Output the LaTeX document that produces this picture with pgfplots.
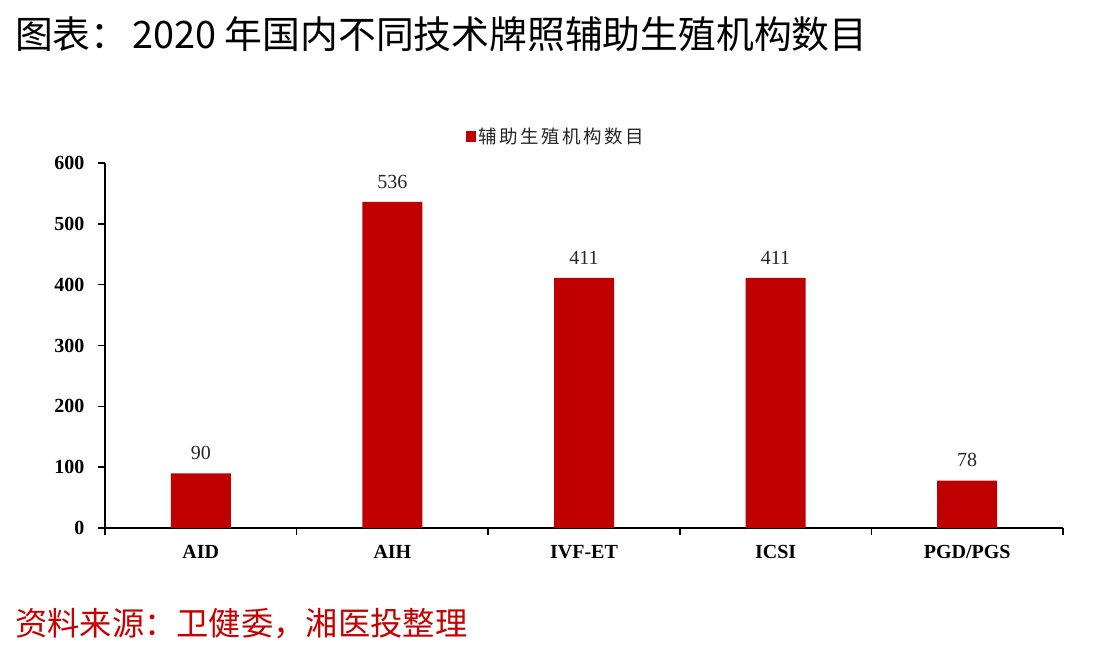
\documentclass[border=0pt]{standalone}
\usepackage{pgfplots}
\pgfplotsset{compat=1.18}
\usepackage{fontspec}
\setmainfont{Liberation Serif}
\newfontfamily\cjk{Noto Sans CJK SC}
\newfontfamily\cjkls[LetterSpace=14]{Noto Sans CJK SC}
\definecolor{barred}{HTML}{C00000}
\definecolor{srcred}{HTML}{C80000}
\begin{document}
\begin{tikzpicture}
\useasboundingbox (0,0) rectangle (1097pt,-657pt);
\node[anchor=base west, inner sep=0pt, font=\cjk\fontsize{37.8}{37.8}\selectfont] at (15pt,-48pt) {图表：\hspace{4pt}2020 年国内不同技术牌照辅助生殖机构数目};
\node[anchor=base west, inner sep=0pt, text=srcred, font=\cjk\fontsize{32.3}{32.3}\selectfont] at (15pt,-635pt) {资料来源：卫健委，湘医投整理};
\begin{axis}[
  at={(105pt,-528pt)}, anchor=south west,
  scale only axis, width=958pt, height=365pt,
  xmin=-0.5, xmax=4.5, ymin=0, ymax=600,
  axis x line=bottom, axis y line=left,
  axis line style={-, line width=1.6pt, black},
  ytick={0,100,...,600},
  xtick={-0.5,0.5,1.5,2.5,3.5,4.5},
  xticklabels={},
  every tick/.style={draw=black, line width=1.6pt},
  major tick length=7pt,
  tick align=outside,
  extra x ticks={0,1,2,3,4},
  extra x tick labels={AID,AIH,IVF-ET,ICSI,PGD/PGS},
  extra x tick style={major tick length=0pt},
  /pgf/number format/assume math mode=true,
  yticklabel style={font=\bfseries\fontsize{20}{20}\selectfont, xshift=-10pt},
  xticklabel style={font=\bfseries\fontsize{20}{20}\selectfont, yshift=-14pt},
  ybar, bar width=60pt,
  nodes near coords,
  every node near coord/.append style={font=\fontsize{20}{20}\selectfont, text=black!85, yshift=10pt},
  legend style={at={(0.471,1.074)}, anchor=center, draw=none, fill=none,
    font=\cjkls\fontsize{18.5}{18.5}\selectfont, text=black!85},
  legend image code/.code={\fill[barred] (0pt,-5.5pt) rectangle (10pt,5.5pt);},
  clip=false,
]
\addplot[fill=barred, draw=none] coordinates {(0,90) (1,536) (2,411) (3,411) (4,78)};
\addlegendentry{辅助生殖机构数目}
\end{axis}
\end{tikzpicture}
\end{document}
